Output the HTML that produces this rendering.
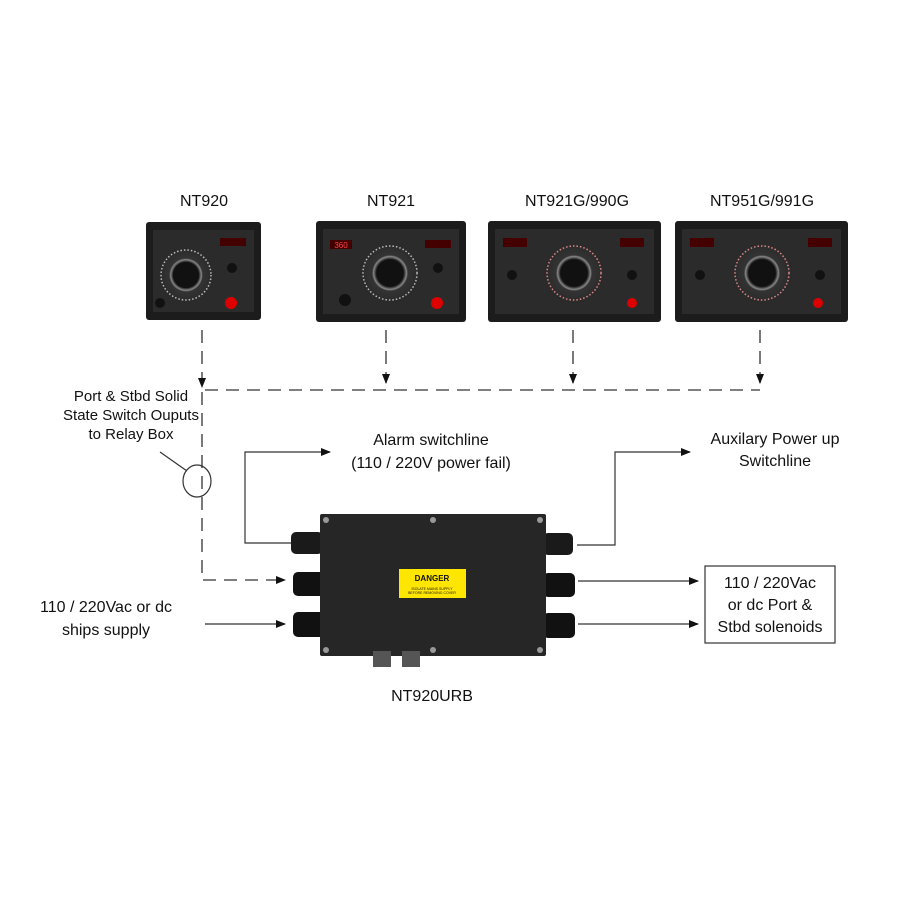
<!DOCTYPE html>
<html><head><style>body{margin:0;background:#fff}svg{display:block}text{font-family:"Liberation Sans",sans-serif;fill:#111}</style></head><body>
<svg width="900" height="900" viewBox="0 0 900 900">
<defs>
<marker id="a" markerWidth="10" markerHeight="8" refX="9" refY="4" orient="auto" markerUnits="userSpaceOnUse"><path d="M0,0 L10,4 L0,8z" fill="#111"/></marker>
<radialGradient id="g"><stop offset="0" stop-color="#111"/><stop offset=".45" stop-color="#111"/><stop offset=".55" stop-color="#888"/><stop offset=".6" stop-color="#333"/><stop offset="1" stop-color="#2a2a2a"/></radialGradient>
</defs>
<g font-size="16" text-anchor="middle">
<text x="204" y="206">NT920</text><text x="391" y="206">NT921</text><text x="577" y="206">NT921G/990G</text><text x="762" y="206">NT951G/991G</text>
</g>
<!-- panels -->
<g>
<rect x="146" y="222" width="115" height="98" rx="3" fill="#1c1c1c"/><rect x="153" y="230" width="101" height="82" fill="#2b2b2b"/><circle cx="186" cy="275" r="28" fill="url(#g)"/><circle cx="186" cy="275" r="25" fill="none" stroke="#bbb" stroke-width="1.5" stroke-dasharray="1.5,2"/><circle cx="186" cy="275" r="13" fill="#111"/><rect x="220" y="238" width="26" height="8" fill="#400"/><circle cx="231" cy="303" r="6" fill="#d00"/><circle cx="232" cy="268" r="5" fill="#111"/><circle cx="160" cy="303" r="5" fill="#111"/>
<rect x="316" y="221" width="150" height="101" rx="3" fill="#1c1c1c"/><rect x="323" y="229" width="136" height="85" fill="#2b2b2b"/><circle cx="390" cy="273" r="30" fill="url(#g)"/><circle cx="390" cy="273" r="27" fill="none" stroke="#bbb" stroke-width="1.5" stroke-dasharray="1.5,2"/><circle cx="390" cy="273" r="13" fill="#111"/><rect x="330" y="240" width="22" height="9" fill="#400"/><text x="341" y="248" font-size="8" text-anchor="middle" style="fill:#f44">360</text><rect x="425" y="240" width="26" height="8" fill="#400"/><circle cx="437" cy="303" r="6" fill="#d00"/><circle cx="438" cy="268" r="5" fill="#111"/><circle cx="345" cy="300" r="6" fill="#111"/>
<rect x="488" y="221" width="173" height="101" rx="3" fill="#1c1c1c"/><rect x="495" y="229" width="159" height="85" fill="#2b2b2b"/><circle cx="574" cy="273" r="30" fill="url(#g)"/><circle cx="574" cy="273" r="27" fill="none" stroke="#d88" stroke-width="1.5" stroke-dasharray="1.5,2"/><circle cx="574" cy="273" r="12" fill="#111"/><rect x="503" y="238" width="24" height="9" fill="#400"/><rect x="620" y="238" width="24" height="9" fill="#400"/><circle cx="632" cy="303" r="5" fill="#d00"/><circle cx="512" cy="275" r="5" fill="#111"/><circle cx="632" cy="275" r="5" fill="#111"/>
<rect x="675" y="221" width="173" height="101" rx="3" fill="#1c1c1c"/><rect x="682" y="229" width="159" height="85" fill="#2b2b2b"/><circle cx="762" cy="273" r="30" fill="url(#g)"/><circle cx="762" cy="273" r="27" fill="none" stroke="#d88" stroke-width="1.5" stroke-dasharray="1.5,2"/><circle cx="762" cy="273" r="12" fill="#111"/><rect x="690" y="238" width="24" height="9" fill="#400"/><rect x="808" y="238" width="24" height="9" fill="#400"/><circle cx="818" cy="303" r="5" fill="#d00"/><circle cx="700" cy="275" r="5" fill="#111"/><circle cx="820" cy="275" r="5" fill="#111"/>
</g>
<!-- dashed -->
<g stroke="#333" stroke-width="1.3" fill="none" stroke-dasharray="13,8">
<path d="M202,330 V387" marker-end="url(#a)"/><path d="M386,330 V383" marker-end="url(#a)"/><path d="M573,330 V383" marker-end="url(#a)"/><path d="M760,330 V383" marker-end="url(#a)"/>
<path d="M205,390 H760"/><path d="M202,392 V580 H285" marker-end="url(#a)"/>
</g>
<g stroke="#333" stroke-width="1.2" fill="none">
<path d="M295,543 H245 V452 H330" marker-end="url(#a)"/>
<path d="M577,545 H615 V452 H690" marker-end="url(#a)"/>
<path d="M578,581 H698" marker-end="url(#a)"/><path d="M578,624 H698" marker-end="url(#a)"/>
<path d="M205,624 H285" marker-end="url(#a)"/>
<ellipse cx="197" cy="481" rx="14" ry="16"/><path d="M160,452 L187,471"/>
<rect x="705" y="566" width="130" height="77"/>
</g>
<!-- box -->
<g>
<rect x="291" y="532" width="32" height="22" rx="5" fill="#1a1a1a"/><rect x="293" y="572" width="32" height="24" rx="5" fill="#111"/><rect x="293" y="612" width="32" height="25" rx="5" fill="#111"/>
<rect x="543" y="533" width="30" height="22" rx="5" fill="#1a1a1a"/><rect x="543" y="573" width="32" height="24" rx="5" fill="#111"/><rect x="543" y="613" width="32" height="25" rx="5" fill="#111"/>
<rect x="320" y="514" width="226" height="142" rx="2" fill="#262626"/>
<rect x="373" y="651" width="18" height="16" fill="#555"/><rect x="402" y="651" width="18" height="16" fill="#555"/>
<g fill="#999"><circle cx="326" cy="520" r="3"/><circle cx="433" cy="520" r="3"/><circle cx="540" cy="520" r="3"/><circle cx="326" cy="650" r="3"/><circle cx="433" cy="650" r="3"/><circle cx="540" cy="650" r="3"/></g>
<rect x="399" y="569" width="67" height="29" fill="#ffe600"/>
<text x="432" y="581" font-size="8" font-weight="bold" text-anchor="middle">DANGER</text>
<text x="432" y="590" font-size="3.5" text-anchor="middle">ISOLATE MAINS SUPPLY</text><text x="432" y="594" font-size="3.5" text-anchor="middle">BEFORE REMOVING COVER</text>
</g>
<g font-size="15" text-anchor="middle">
<text x="131" y="401">Port &amp; Stbd Solid</text><text x="131" y="420">State Switch Ouputs</text><text x="131" y="439">to Relay Box</text>
<text x="431" y="445" font-size="16">Alarm switchline</text><text x="431" y="468" font-size="16">(110 / 220V power fail)</text>
<text x="775" y="444" font-size="16">Auxilary Power up</text><text x="775" y="466" font-size="16">Switchline</text>
<text x="106" y="612" font-size="16">110 / 220Vac or dc</text><text x="106" y="635" font-size="16">ships supply</text>
<text x="770" y="588" font-size="16">110 / 220Vac</text><text x="770" y="610" font-size="16">or dc Port &amp;</text><text x="770" y="632" font-size="16">Stbd solenoids</text>
<text x="432" y="701" font-size="16">NT920URB</text>
</g>
</svg>
</body></html>
